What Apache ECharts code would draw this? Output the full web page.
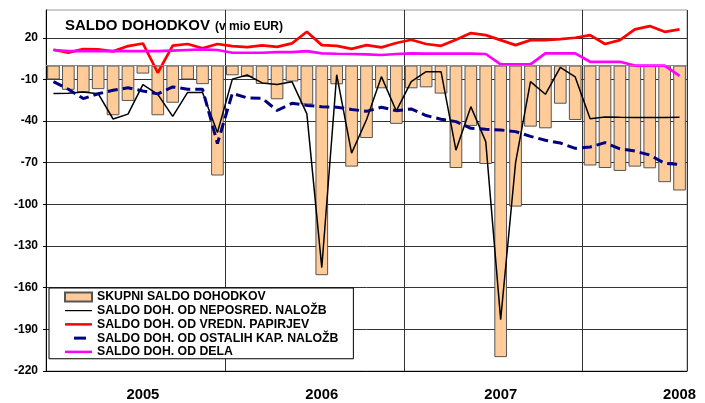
<!DOCTYPE html>
<html>
<head>
<meta charset="utf-8">
<script src="https://cdn.jsdelivr.net/npm/echarts@6/dist/echarts.min.js"></script>
<style>
html,body{margin:0;padding:0;background:#fff;}
#chart{width:705px;height:403px;}
</style>
</head>
<body>
<div id="chart"></div>
<script>
var years = ['2005','2006','2007','2008'];
var months = [
 '2005-01','2005-02','2005-03','2005-04','2005-05','2005-06','2005-07','2005-08','2005-09','2005-10','2005-11','2005-12',
 '2006-01','2006-02','2006-03','2006-04','2006-05','2006-06','2006-07','2006-08','2006-09','2006-10','2006-11','2006-12',
 '2007-01','2007-02','2007-03','2007-04','2007-05','2007-06','2007-07','2007-08','2007-09','2007-10','2007-11','2007-12',
 '2008-01','2008-02','2008-03','2008-04','2008-05','2008-06','2008-07'
];
var yTicks = [-220,-190,-160,-130,-100,-70,-40,-10,20];

var skupni = [-10,-17.5,-19.3,-17,-35.8,-25.5,-5.8,-35.8,-26.8,-10,-13.4,-79.2,
  -7,-8.2,-13.3,-24.3,-11.5,-28,-151,-13.5,-72.8,-52.2,-16.4,-42,
  -16.4,-15.7,-20.2,-73.8,-43.5,-70.9,-210,-101.6,-44,-45.2,-27.5,-39.2,
  -72,-73.8,-75.9,-72.8,-74,-84,-90];
var neposred = [-20.2,-20,-19,-20.3,-38.5,-35,-13.8,-20.8,-36.6,-19.4,-19.4,-48.3,
  -9.8,-6.8,-12.5,-13.6,-11.6,-34.8,-145.5,-6.6,-63.1,-39,-8,-32.7,
  -11.6,-4.4,-4.4,-61,-29.6,-54.8,-183,-70,-11.6,-20.7,-1.4,-8.2,
  -38.4,-37,-37.3,-37.4,-37.5,-37.5,-37.3];
var papirji = [11.4,9.3,11.9,11.6,10.2,14,15.9,-5.2,14.3,15.5,12.4,15.5,
  14,13.3,14.5,13.4,16,24.3,14.7,14.2,12,14.7,13.1,16.2,
  18.6,15.5,14.2,18.6,23.4,21.9,18.3,14.7,18.3,18.3,19,20,
  21.9,15.5,18.3,26,28.4,24.3,26];
var ostale = [-11.6,-17.1,-23.8,-20.3,-17.8,-16,-18.3,-20.4,-15.4,-17,-17,-56.2,
  -20,-23.3,-23.6,-32.4,-27.2,-28.7,-29.6,-30,-31.6,-33,-30,-32.5,
  -31.3,-36,-38.7,-40.4,-45.2,-45.9,-46.4,-47.6,-51,-53.8,-55.8,-59.6,
  -58.7,-55.5,-60,-61.6,-64.4,-70.4,-71.2];
var dela = [11.2,10.4,10.4,10.4,10.4,10.4,10.4,10.4,10.8,11.2,11.6,11.2,
  9.2,9.2,9.2,9.6,9.6,10.4,8.8,8.5,8.3,8,7.6,8.3,
  8.8,8.6,8.6,8.6,8.6,8.3,0.8,0.8,0.8,8.8,8.8,8.8,
  2.7,2.7,2.7,0,0,0,-7.5];

var names = ['SKUPNI SALDO DOHODKOV','SALDO DOH. OD NEPOSRED. NALOŽB','SALDO DOH. OD VREDN. PAPIRJEV','SALDO DOH. OD OSTALIH KAP. NALOŽB','SALDO DOH. OD DELA'];

var FONT = '"Liberation Sans", Arial, sans-serif';
var chart = echarts.init(document.getElementById('chart'), null, {renderer:'canvas'});
var lineIcon = function(t){ return 'path://M0,0M27,9M0,' + (4.5 - t/2) + 'L27,' + (4.5 - t/2) + 'L27,' + (4.5 + t/2) + 'L0,' + (4.5 + t/2) + 'Z'; };

chart.setOption({
  animation:false,
  backgroundColor:'#fff',
  textStyle:{fontFamily:FONT},
  title:{
    left:65, top:15, padding:0,
    text:'{a|SALDO DOHODKOV} {b|(v mio EUR)}',
    textStyle:{rich:{
      a:{fontFamily:FONT,fontSize:15,fontWeight:'bold',color:'#000',verticalAlign:'bottom'},
      b:{fontFamily:FONT,fontSize:12,fontWeight:'bold',color:'#000',verticalAlign:'bottom'}
    }}
  },
  grid:{left:46,right:18,top:10,bottom:32,show:true,borderColor:'#999',borderWidth:1,backgroundColor:'transparent'},
  legend:{
    orient:'vertical', left:49, top:288,
    backgroundColor:'#fff', borderColor:'#000', borderWidth:1,
    padding:[2,15,0,15], itemGap:0, itemWidth:27, itemHeight:9,
    textStyle:{fontFamily:FONT,fontSize:12.3,fontWeight:'bold',color:'#000',lineHeight:13.75},
    data:[
      {name:names[0], icon:'rect'},
      {name:names[1], icon:lineIcon(1.2)},
      {name:names[2], icon:lineIcon(2.5)},
      {name:names[3], icon:'path://M0,0M27,9M9,3L21,3L21,6L9,6Z'},
      {name:names[4], icon:lineIcon(2.5)}
    ]
  },
  xAxis:{
    type:'category', data:months, boundaryGap:true,
    axisLine:{onZero:false, lineStyle:{color:'#000',width:1}},
    axisTick:{show:false},
    axisLabel:{
      interval:function(i){return i % 12 === 6;},
      formatter:function(v){return v.slice(0,4);},
      fontFamily:FONT,fontSize:14.8,fontWeight:'bold',color:'#000',margin:16
    },
    splitLine:{show:true, interval:function(i){return i>0 && i % 12 === 0;}, lineStyle:{color:'#333',width:1}}
  },
  yAxis:{
    type:'value', min:-220, max:40, interval:30,
    axisLine:{show:true, lineStyle:{color:'#000',width:1}},
    axisTick:{show:true, inside:false, length:3, lineStyle:{color:'#000'}},
    axisLabel:{fontFamily:FONT,fontSize:12,fontWeight:'bold',color:'#000',margin:8,showMaxLabel:false},
    splitLine:{show:true, showMaxLine:false, lineStyle:{color:'#333',width:1}}
  },
  series:[
    {name:names[0], type:'bar', data:skupni, barCategoryGap:'15%',
     itemStyle:{color:'#FFCC99', borderColor:'#555', borderWidth:1},
     markLine:{silent:true, symbol:'none', label:{show:false}, lineStyle:{color:'#888',width:1,type:'solid'}, data:[{yAxis:0}]}},
    {name:names[1], type:'line', data:neposred, symbol:'none', lineStyle:{color:'#000',width:1.5}, itemStyle:{color:'#000'}},
    {name:names[2], type:'line', data:papirji, symbol:'none', lineStyle:{color:'#FF0000',width:2.7}, itemStyle:{color:'#FF0000'}},
    {name:names[3], type:'line', data:ostale, symbol:'none', lineStyle:{color:'#000080',width:3,type:[10,5]}, itemStyle:{color:'#000080'}},
    {name:names[4], type:'line', data:dela, symbol:'none', lineStyle:{color:'#FF00FF',width:2.7}, itemStyle:{color:'#FF00FF'}}
  ]
});
</script>
</body>
</html>
